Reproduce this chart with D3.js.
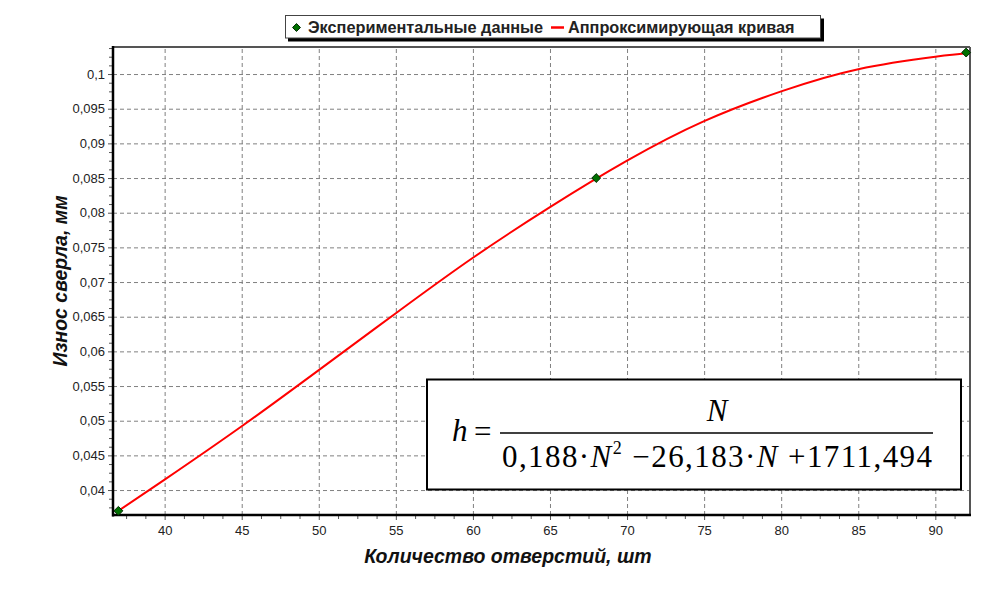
<!DOCTYPE html>
<html>
<head>
<meta charset="utf-8">
<script src="https://cdn.jsdelivr.net/npm/d3@7"></script>
<style>
  body { margin: 0; background: #fff; }
  svg { display: block; }
  .tick text { font-family: "Liberation Sans", Arial, sans-serif; font-size: 13px; fill: #222; }
  .grid line { stroke: #808080; stroke-dasharray: 4,3; }
  .grid path { display: none; }
</style>
</head>
<body>
<div id="chart"></div>
<script>
// curve
var curveN = [37, 40, 45, 50, 55, 60, 65, 70, 75, 80, 85, 90, 92];
var curveH = [0.0370, 0.0415, 0.0492, 0.0573, 0.0655, 0.0735, 0.0808, 0.0875, 0.0932, 0.0975, 0.1007, 0.1025, 0.1030];

// experimental points
var expN = [37, 68, 92];
var expH = [0.0370, 0.0850, 0.1031];

var xTicks = [40, 45, 50, 55, 60, 65, 70, 75, 80, 85, 90];
var yTicks = [0.04, 0.045, 0.05, 0.055, 0.06, 0.065, 0.07, 0.075, 0.08, 0.085, 0.09, 0.095, 0.1];

var width = 985, height = 590;
var pl = 113, pr = 970, pt = 47, pb = 515;

var svg = d3.select("#chart").append("svg")
  .attr("width", width)
  .attr("height", height);

var x = d3.scaleLinear().domain([36.65, 92.25]).range([pl, pr]);
var y = d3.scaleLinear().domain([0.0364, 0.1039]).range([pb, pt]);

var fmt = function(d) { return String(+d.toFixed(3)).replace(".", ","); };

// grid
svg.append("g")
  .attr("class", "grid")
  .attr("transform", "translate(0," + pb + ")")
  .call(d3.axisBottom(x).tickValues(xTicks).tickSize(-(pb - pt)).tickFormat(""));
svg.append("g")
  .attr("class", "grid")
  .attr("transform", "translate(" + pl + ",0)")
  .call(d3.axisLeft(y).tickValues(yTicks).tickSize(-(pr - pl)).tickFormat(""));

// minor ticks
var xMinor = d3.range(37.5, 92.1, 1.25).filter(function(d) { return Math.abs(d / 5 - Math.round(d / 5)) > 0.01; });
var yMinor = d3.range(0.0375, 0.1039, 0.00125).filter(function(d) { return Math.abs(d / 0.005 - Math.round(d / 0.005)) > 0.01; });

svg.append("g")
  .attr("transform", "translate(0," + pb + ")")
  .call(d3.axisBottom(x).tickValues(xMinor).tickSize(4).tickFormat(""))
  .call(function(g) { g.select(".domain").remove(); g.selectAll("line").attr("stroke", "#555"); });
svg.append("g")
  .attr("transform", "translate(" + pl + ",0)")
  .call(d3.axisLeft(y).tickValues(yMinor).tickSize(4).tickFormat(""))
  .call(function(g) { g.select(".domain").remove(); g.selectAll("line").attr("stroke", "#555"); });

// major ticks + labels
svg.append("g")
  .attr("transform", "translate(0," + pb + ")")
  .call(d3.axisBottom(x).tickValues(xTicks).tickSize(5).tickPadding(6).tickFormat(d3.format("d")))
  .call(function(g) { g.select(".domain").remove(); g.selectAll("line").attr("stroke", "#555"); });
svg.append("g")
  .attr("transform", "translate(" + pl + ",0)")
  .call(d3.axisLeft(y).tickValues(yTicks).tickSize(5).tickPadding(3).tickFormat(fmt))
  .call(function(g) { g.select(".domain").remove(); g.selectAll("line").attr("stroke", "#555"); });

// frame
svg.append("line").attr("x1", pl).attr("x2", pr).attr("y1", pt).attr("y2", pt)
  .attr("stroke", "#555").attr("stroke-width", 2);
svg.append("line").attr("x1", pr).attr("x2", pr).attr("y1", pt).attr("y2", pb)
  .attr("stroke", "#555").attr("stroke-width", 2);
svg.append("line").attr("x1", pl).attr("x2", pl).attr("y1", pt - 1).attr("y2", pb + 1.5)
  .attr("stroke", "#000").attr("stroke-width", 2.5);
svg.append("line").attr("x1", pl - 1).attr("x2", pr + 1).attr("y1", pb).attr("y2", pb)
  .attr("stroke", "#000").attr("stroke-width", 2.5);

// formula box
var fx = 427, fy = 379.5, fw = 534, fh = 110;
svg.append("rect")
  .attr("x", fx).attr("y", fy).attr("width", fw).attr("height", fh)
  .attr("fill", "#fff").attr("stroke", "#000").attr("stroke-width", 2);

var serif = "Liberation Serif";
svg.append("text")
  .attr("x", 452).attr("y", 441)
  .attr("font-family", serif).attr("font-size", 31).attr("font-style", "italic")
  .text("h");
svg.append("text")
  .attr("x", 474).attr("y", 442)
  .attr("font-family", serif).attr("font-size", 31)
  .text("=");
svg.append("line")
  .attr("x1", 500).attr("x2", 933).attr("y1", 433).attr("y2", 433)
  .attr("stroke", "#000").attr("stroke-width", 1.5);
svg.append("text")
  .attr("x", 717).attr("y", 421).attr("text-anchor", "middle")
  .attr("font-family", serif).attr("font-size", 31).attr("font-style", "italic")
  .text("N");

var den = svg.append("text")
  .attr("x", 502).attr("y", 467)
  .attr("font-family", serif).attr("font-size", 31)
  .attr("textLength", 430).attr("lengthAdjust", "spacing");
den.append("tspan").text("0,188\u00b7");
den.append("tspan").attr("font-style", "italic").text("N");
den.append("tspan").attr("font-size", 18).attr("dy", -13).text("2");
den.append("tspan").attr("dy", 13).text(" \u221226,183\u00b7");
den.append("tspan").attr("font-style", "italic").text("N");
den.append("tspan").text(" +1711,494");

// curve
var line = d3.line()
  .x(function(d, i) { return x(curveN[i]); })
  .y(function(d, i) { return y(curveH[i]); })
  .curve(d3.curveNatural);

svg.append("path")
  .datum(curveN)
  .attr("fill", "none")
  .attr("stroke", "#ff0000")
  .attr("stroke-width", 2)
  .attr("d", line);

// points
var diamond = d3.symbol().type(d3.symbolDiamond2).size(50);
svg.selectAll(".pt")
  .data(expN)
  .enter().append("path")
  .attr("class", "pt")
  .attr("transform", function(d, i) { return "translate(" + x(d) + "," + y(expH[i]) + ")"; })
  .attr("d", diamond)
  .attr("fill", "#007000")
  .attr("stroke", "#002a00")
  .attr("stroke-width", 1);

// axis titles
var sans = "Liberation Sans";
svg.append("text")
  .attr("x", 508).attr("y", 563).attr("text-anchor", "middle")
  .attr("font-family", sans).attr("font-size", 19.5).attr("font-weight", "bold").attr("font-style", "italic")
  .attr("fill", "#111")
  .text("Количество отверстий, шт");
svg.append("text")
  .attr("transform", "translate(67,281) rotate(-90)")
  .attr("text-anchor", "middle")
  .attr("font-family", sans).attr("font-size", 19.5).attr("font-weight", "bold").attr("font-style", "italic")
  .attr("fill", "#111")
  .text("Износ сверла, мм");

// legend
var lg = svg.append("g");
lg.append("rect").attr("x", 288).attr("y", 18.5).attr("width", 536).attr("height", 23).attr("fill", "#000");
lg.append("rect").attr("x", 285.5).attr("y", 15.5).attr("width", 535).attr("height", 22.5)
  .attr("fill", "#fff").attr("stroke", "#444").attr("stroke-width", 1);
lg.append("path")
  .attr("transform", "translate(296.5,27.5)")
  .attr("d", d3.symbol().type(d3.symbolDiamond2).size(40))
  .attr("fill", "#007000").attr("stroke", "#002a00");
lg.append("text")
  .attr("x", 308).attr("y", 33)
  .attr("font-family", sans).attr("font-size", 16.3).attr("font-weight", "bold").attr("fill", "#222")
  .text("Экспериментальные данные");
lg.append("line")
  .attr("x1", 551).attr("x2", 564).attr("y1", 27.5).attr("y2", 27.5)
  .attr("stroke", "#ff0000").attr("stroke-width", 2.5);
lg.append("text")
  .attr("x", 568).attr("y", 33)
  .attr("font-family", sans).attr("font-size", 16.3).attr("font-weight", "bold").attr("fill", "#222")
  .text("Аппроксимирующая кривая");
</script>
</body>
</html>
